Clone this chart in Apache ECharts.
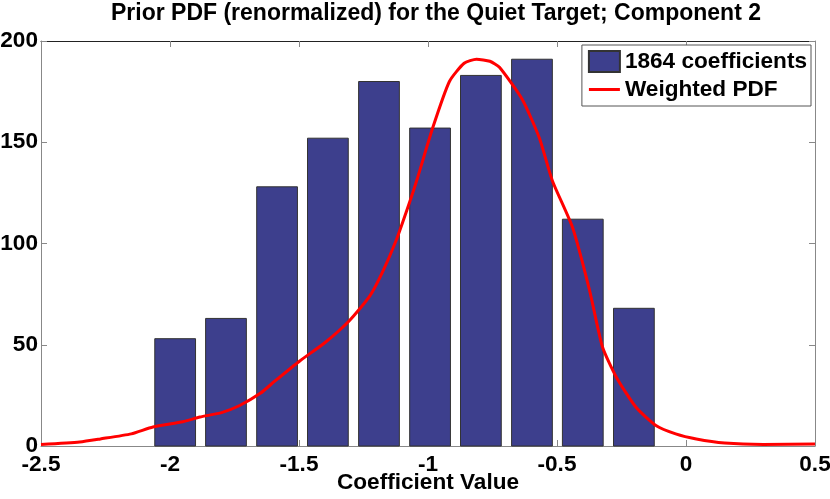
<!DOCTYPE html>
<html>
<head>
<meta charset="utf-8">
<script src="https://cdn.jsdelivr.net/npm/echarts@6/dist/echarts.min.js"></script>
<style>
html,body{margin:0;padding:0;background:#fff;}
#chart{width:830px;height:499px;}
</style>
</head>
<body>
<div id="chart"></div>
<script>
// ---- data ----
const binCenters = [-1.980, -1.783, -1.585, -1.388, -1.190, -0.992, -0.795, -0.597, -0.400, -0.202];
const binCounts  = [53, 63, 128, 152, 180, 157, 183, 191, 112, 68];
const pdfX = [-2.5, -2.35, -2.27, -2.15, -2.066, -1.95, -1.884, -1.80, -1.73, -1.65, -1.594, -1.497, -1.40, -1.304, -1.226, -1.176, -1.122, -1.083, -1.044, -0.982, -0.917, -0.86, -0.812, -0.76, -0.723, -0.634, -0.568, -0.518, -0.44, -0.374, -0.324, -0.27, -0.193, -0.115, -0.04, 0.04, 0.15, 0.3, 0.5];
const pdfY = [0.8, 2, 3.5, 6, 9.4, 12, 14.3, 16.5, 20, 26, 32, 42, 51, 62, 74, 86, 102, 116, 131, 157, 180, 189, 191, 190, 187, 171, 152, 131, 108, 77, 49, 34, 19, 10, 6, 3.5, 1.5, 0.8, 1];
const xTicks = { min: -2.5, max: 0.5, step: 0.5 };
const yTicks = { min: 0, max: 200, step: 50 };
const titleText = 'Prior PDF (renormalized) for the Quiet Target; Component 2';
const xName = 'Coefficient Value';
const barName = '1864 coefficients';
const lineName = 'Weighted PDF';

// ---- styles ----
const BAR_W = 0.158;
const BAR_COLOR = '#3D3F8D';
const FONT = "'Liberation Sans', Arial, Helvetica, sans-serif";
const AX_GRAY = '#888888';
const LINE_ICON = 'path://M0,0 L0.01,0 L0.01,0.01 Z M0,9 L31,9 L31,12 L0,12 Z M31,21 L30.99,21 L30.99,20.99 Z';

const chart = echarts.init(document.getElementById('chart'), null, {renderer: 'canvas'});
const barData = binCenters.map((c, i) => [c, binCounts[i]]);
const lineData = pdfX.map((x, i) => [x, pdfY[i]]);

const txt = {fontFamily: FONT, fontWeight: 'bold', fontSize: 22.6, color: '#000'};

chart.setOption({
  animation: false,
  backgroundColor: '#fff',
  title: {
    text: titleText, left: 106, top: -3,
    textStyle: Object.assign({}, txt, {fontSize: 23})
  },
  grid: {left: 41, right: 15, top: 41, bottom: 53, containLabel: false, outerBoundsMode: 'none'},
  legend: {
    right: 19, top: 45, orient: 'vertical',
    itemWidth: 31, itemHeight: 21, itemGap: 5,
    padding: [5, 4, 5, 6],
    borderColor: '#555', borderWidth: 1, backgroundColor: '#fff',
    textStyle: Object.assign({lineHeight: 22}, txt),
    data: [{name: barName, icon: 'rect'}, {name: lineName, icon: LINE_ICON, itemStyle: {color: '#ff0000', borderWidth: 0}}]
  },
  xAxis: [{
    type: 'value', min: xTicks.min, max: xTicks.max, interval: xTicks.step,
    name: xName, nameLocation: 'middle', nameGap: 25, nameMoveOverlap: false,
    nameTextStyle: Object.assign({}, txt),
    axisLine: {show: true, onZero: false, lineStyle: {color: AX_GRAY, width: 1}},
    axisTick: {show: true, inside: true, length: 6, lineStyle: {color: AX_GRAY}},
    axisLabel: Object.assign({margin: 7, showMinLabel: true, showMaxLabel: true}, txt),
    splitLine: {show: false}
  }, {
    type: 'value', position: 'top', min: xTicks.min, max: xTicks.max, interval: xTicks.step,
    axisLine: {show: true, onZero: false, lineStyle: {color: '#222', width: 1}},
    axisTick: {show: true, inside: true, length: 6, lineStyle: {color: AX_GRAY}},
    axisLabel: {show: false}, splitLine: {show: false}
  }],
  yAxis: [{
    type: 'value', min: yTicks.min, max: yTicks.max, interval: yTicks.step,
    axisLine: {show: true, onZero: false, lineStyle: {color: AX_GRAY, width: 1}},
    axisTick: {show: true, inside: true, length: 6, lineStyle: {color: AX_GRAY}},
    axisLabel: Object.assign({margin: 3, showMinLabel: true, showMaxLabel: true}, txt),
    splitLine: {show: false}
  }, {
    type: 'value', position: 'right', min: yTicks.min, max: yTicks.max, interval: yTicks.step,
    axisLine: {show: true, onZero: false, lineStyle: {color: AX_GRAY, width: 1}},
    axisTick: {show: true, inside: true, length: 6, lineStyle: {color: AX_GRAY}},
    axisLabel: {show: false}, splitLine: {show: false}
  }],
  series: [{
    name: barName, type: 'custom', xAxisIndex: 0, yAxisIndex: 0,
    itemStyle: {color: BAR_COLOR, borderColor: '#333', borderWidth: 1},
    encode: {x: 0, y: 1},
    renderItem: function (params, api) {
      const x = api.value(0), y = api.value(1);
      const p0 = api.coord([x - BAR_W / 2, y]);
      const p1 = api.coord([x + BAR_W / 2, 0]);
      return {
        type: 'rect',
        shape: {x: p0[0], y: p0[1], width: p1[0] - p0[0], height: p1[1] - p0[1]},
        style: {fill: BAR_COLOR, stroke: '#333', lineWidth: 1}
      };
    },
    data: barData, z: 2
  }, {
    name: lineName, type: 'line', xAxisIndex: 0, yAxisIndex: 0,
    showSymbol: false, symbol: 'none', smooth: 0.2,
    lineStyle: {color: '#ff0000', width: 3},
    itemStyle: {color: '#ff0000'},
    data: lineData, z: 3
  }]
});
</script>
</body>
</html>
